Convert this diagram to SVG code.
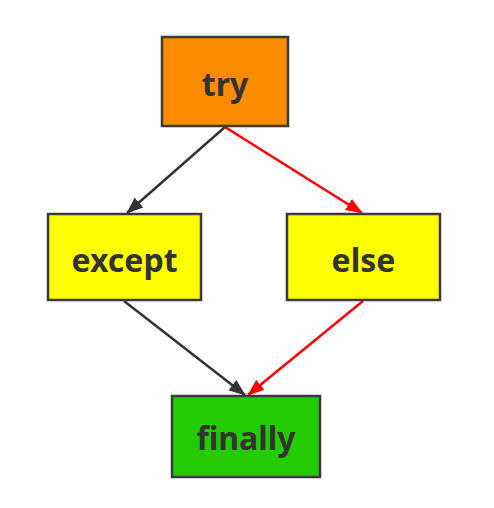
<svg xmlns="http://www.w3.org/2000/svg" width="494" height="508" viewBox="0 0 494 508">
<style>
.box{stroke:#3a3a3a;stroke-width:2.5}
.lbl{font-family:"Noto Sans","Open Sans","DejaVu Sans",sans-serif;font-weight:bold;font-size:32px;fill:#333333;text-anchor:middle;dominant-baseline:central}
.dk{stroke:#333333;stroke-width:2.5;fill:none}
.rd{stroke:#ff0000;stroke-width:2.5;fill:none}
</style>
<defs>
<marker id="ahd" markerWidth="17" markerHeight="13" refX="16" refY="6.5" orient="auto" markerUnits="userSpaceOnUse"><path d="M0,0 L17,6.5 L0,13 Z" fill="#333333"/></marker>
<marker id="ahr" markerWidth="17" markerHeight="13" refX="16" refY="6.5" orient="auto" markerUnits="userSpaceOnUse"><path d="M0,0 L17,6.5 L0,13 Z" fill="#ff0000"/></marker>
</defs>
<rect width="494" height="508" fill="#ffffff"/>
<g id="connectors">
<line class="dk" x1="225" y1="127" x2="127" y2="213" marker-end="url(#ahd)"/>
<line class="rd" x1="225" y1="127" x2="362" y2="213" marker-end="url(#ahr)"/>
<line class="dk" x1="124" y1="301" x2="245" y2="395" marker-end="url(#ahd)"/>
<line class="rd" x1="363" y1="301" x2="248" y2="395" marker-end="url(#ahr)"/>
</g>
<g id="try"><rect class="box" x="162" y="37" width="126" height="89" fill="#ff8c00"/><text class="lbl" x="225" y="83">try</text></g>
<g id="except"><rect class="box" x="48" y="214" width="153" height="86" fill="#ffff00"/><text class="lbl" x="124.5" y="259">except</text></g>
<g id="else"><rect class="box" x="287" y="214" width="153" height="86" fill="#ffff00"/><text class="lbl" x="363.5" y="259">else</text></g>
<g id="finally"><rect class="box" x="172" y="396" width="148" height="81" fill="#22cc00"/><text class="lbl" x="246" y="437">finally</text></g>
</svg>
